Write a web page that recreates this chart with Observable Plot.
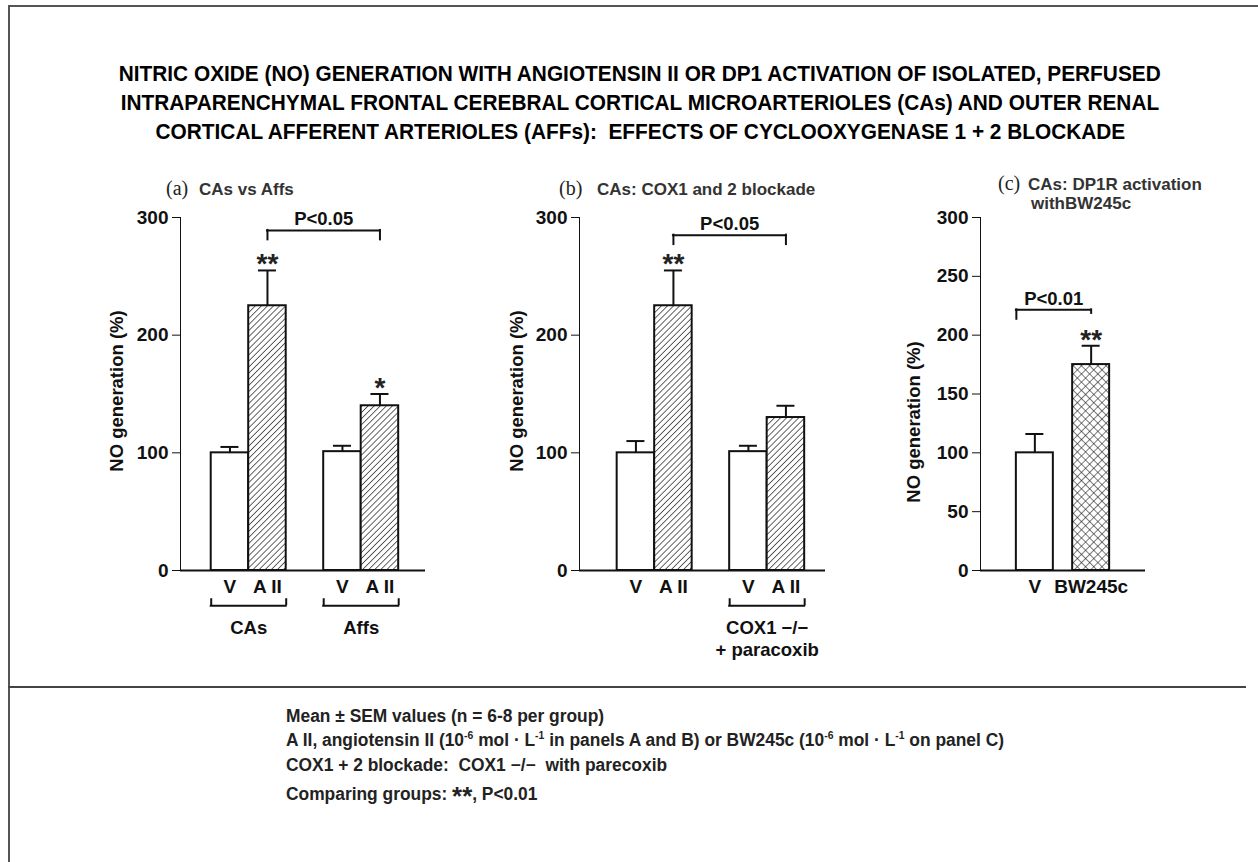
<!DOCTYPE html>
<html>
<head>
<meta charset="utf-8">
<script src="https://cdn.jsdelivr.net/npm/d3@7"></script>
<script src="https://cdn.jsdelivr.net/npm/@observablehq/plot@0.6"></script>
<style>
  html, body { margin: 0; padding: 0; background: #fff; }
  body { width: 1258px; height: 862px; position: relative; overflow: hidden;
         font-family: 'Liberation Sans', Arial, Helvetica, sans-serif; font-weight: bold; color: #111; }
  .abs { position: absolute; white-space: nowrap; }
  #frame { position: absolute; left: 8px; top: 5px; right: -10px; bottom: -10px;
           border-top: 2px solid #555; border-left: 2px solid #555; }
  #title { position: absolute; left: 0; top: 60px; width: 1280px; text-align: center;
           font-size: 21.5px; line-height: 29px; color: #000; }
  #title span { display: inline-block; transform-origin: center center; white-space: nowrap; }
  .hdr { font-size: 17px; color: #333; }
  .ser { font-family: 'Liberation Serif', 'DejaVu Serif', serif; font-weight: normal; font-size: 20px; color: #222; }
  #rule { position: absolute; left: 8px; top: 686px; width: 1238px; height: 0; border-top: 2.5px solid #444; }
  .cap { font-size: 17.5px; color: #222; transform-origin: left center; }
  sup { font-size: 10.5px; vertical-align: 7px; line-height: 0; }
  .panel { position: absolute; top: 160px; }
</style>
</head>
<body>
<svg width="0" height="0" style="position:absolute">
  <defs>
    <pattern id="hatch" patternUnits="userSpaceOnUse" width="4.3" height="4.3" patternTransform="rotate(45)">
      <rect width="4.3" height="4.3" fill="#fff"></rect>
      <line x1="0" y1="0" x2="0" y2="4.3" stroke="#111" stroke-width="1.3"></line>
    </pattern>
    <pattern id="cross" patternUnits="userSpaceOnUse" width="5.8" height="5.8" patternTransform="rotate(45)">
      <rect width="5.8" height="5.8" fill="#fff"></rect>
      <line x1="0" y1="0" x2="0" y2="5.8" stroke="#111" stroke-width="1.1"></line>
      <line x1="0" y1="0" x2="5.8" y2="0" stroke="#111" stroke-width="1.1"></line>
    </pattern>
  </defs>
</svg>
<div id="frame"></div>
<div id="title">
  <div><span id="t1">NITRIC OXIDE (NO) GENERATION WITH ANGIOTENSIN II OR DP1 ACTIVATION OF ISOLATED, PERFUSED</span></div>
  <div><span>INTRAPARENCHYMAL FRONTAL CEREBRAL CORTICAL MICROARTERIOLES (CAs) AND OUTER RENAL</span></div>
  <div><span>CORTICAL AFFERENT ARTERIOLES (AFFs):&nbsp; EFFECTS OF CYCLOOXYGENASE 1 + 2 BLOCKADE</span></div>
</div>

<div class="abs ser" style="left:166px; top:177px;">(a)</div>
<div class="abs hdr" style="left:199px; top:180px;">CAs vs Affs</div>
<div class="abs ser" style="left:559px; top:177px;">(b)</div>
<div class="abs hdr" style="left:597px; top:180px;">CAs: COX1 and 2 blockade</div>
<div class="abs ser" style="left:998px; top:172px;">(c)</div>
<div class="abs hdr" style="left:1028px; top:175px;">CAs: DP1R activation</div>
<div class="abs hdr" style="left:1031px; top:194px;">withBW245c</div>

<div id="pa" class="panel" style="left:60px;"></div>
<div id="pb" class="panel" style="left:460px;"></div>
<div id="pc" class="panel" style="left:860px;"></div>

<div id="rule"></div>
<div class="abs cap" style="left:286px; top:706px;">Mean ± SEM values (n = 6-8 per group)</div>
<div class="abs cap" id="c2" style="left:286px; top:730px;">A II, angiotensin II (10<sup>-6</sup> mol · L<sup>-1</sup> in panels A and B) or BW245c (10<sup>-6</sup> mol · L<sup>-1</sup> on panel C)</div>
<div class="abs cap" style="left:286px; top:755px;">COX1 + 2 blockade:&nbsp; COX1 −/−&nbsp; with parecoxib</div>
<div class="abs cap" style="left:286px; top:781px;">Comparing groups: <span style="font-size:26px; vertical-align:-5px;">**</span>, P&lt;0.01</div>

<script>
// ---------- Data ----------
// Panel (a): CAs vs Affs
const aGroups     = ["CAs", "CAs", "Affs", "Affs"];
const aConditions = ["V", "A II", "V", "A II"];
const aMeans      = [100, 225, 101, 140];
const aSems       = [5, 30, 5, 10];
const aStars      = ["", "**", "", "*"];
const aFills      = ["open", "hatch", "open", "hatch"];
const aComparison = {from: 1, to: 3, label: "P<0.05", y: 289, fromDrop: 8, toDrop: 8, fromAnchor: "center"};

// Panel (b): COX1 and 2 blockade
const bGroups     = ["", "", "COX1 −/−\n+ paracoxib", "COX1 −/−\n+ paracoxib"];
const bConditions = ["V", "A II", "V", "A II"];
const bMeans      = [100, 225, 101, 130];
const bSems       = [10, 30, 5, 10];
const bStars      = ["", "**", "", ""];
const bFills      = ["open", "hatch", "open", "hatch"];
const bComparison = {from: 1, to: 3, label: "P<0.05", y: 285, fromDrop: 8, toDrop: 8, fromAnchor: "center"};

// Panel (c): DP1R activation with BW245c
const cGroups     = ["", ""];
const cConditions = ["V", "BW245c"];
const cMeans      = [100, 175];
const cSems       = [16, 16];
const cStars      = ["", "**"];
const cFills      = ["open", "cross"];
const cComparison = {from: 0, to: 1, label: "P<0.01", y: 221.5, fromDrop: 8, toDrop: 3, fromAnchor: "start"};

const yLabel = "NO generation (%)";
const FONT = "'Liberation Sans', Arial, Helvetica, sans-serif";
const fillMap = {open: "white", hatch: "url(#hatch)", cross: "url(#cross)"};

function makePanel(cfg) {
  const rows = cfg.conditions.map((c, i) => ({
    key: cfg.groups[i] + "|" + c, cond: c, group: cfg.groups[i],
    mean: cfg.means[i], top: cfg.means[i] + cfg.sems[i],
    star: cfg.stars[i], fill: cfg.fills[i]
  }));
  const domain = [];
  rows.forEach((r, i) => {
    if (i > 0 && r.group !== rows[i - 1].group) domain.push("gap" + i);
    domain.push(r.key);
  });
  const band = d3.scaleBand().domain(domain)
    .range([cfg.marginLeft, cfg.width - cfg.marginRight])
    .paddingInner(cfg.paddingInner).paddingOuter(cfg.paddingOuter).align(cfg.align);
  const bw = band.bandwidth();
  const capInset = (bw - 18) / 2;

  const groupRows = [];
  [...new Set(cfg.groups)].forEach(g => {
    if (!g) return;
    const rs = rows.filter(r => r.group === g);
    groupRows.push({first: rs[0].key, last: rs[rs.length - 1].key, label: g});
  });

  const cmp = cfg.comparison;
  const fromKey = rows[cmp.from].key, toKey = rows[cmp.to].key;
  const leftPx = band(fromKey) + (cmp.fromAnchor === "center" ? bw / 2 : 0);
  const rightPx = band(toKey) + bw / 2;
  const cmpRow = [{x1: fromKey, x2: toKey, y: cmp.y, yf: cmp.y - cmp.fromDrop, yt: cmp.y - cmp.toDrop, label: cmp.label}];

  const marks = [];
  Object.keys(fillMap).forEach(f => {
    const sub = rows.filter(r => r.fill === f);
    if (sub.length) marks.push(Plot.barY(sub, {x: "key", y: "mean", fill: fillMap[f], stroke: "#111", strokeWidth: 2}));
  });
  marks.push(
    Plot.ruleY([0], {stroke: "#111", strokeWidth: 2}),
    Plot.ruleX(rows, {x: "key", y1: "mean", y2: "top", stroke: "#111", strokeWidth: 2}),
    Plot.tickY(rows, {x: "key", y: "top", insetLeft: capInset, insetRight: capInset, stroke: "#111", strokeWidth: 2}),
    Plot.text(rows.filter(r => r.star), {x: "key", y: "top", text: "star", lineAnchor: "bottom", dy: 3, fontSize: 28, fontWeight: "bold", fill: "#222"}),
    Plot.ruleY(cmpRow, {x1: "x1", x2: "x2", y: "y", insetLeft: cmp.fromAnchor === "center" ? bw / 2 : 0, insetRight: bw / 2, stroke: "#111", strokeWidth: 2, strokeLinecap: "square"}),
    Plot.ruleX(cmpRow, {x: "x1", y1: "yf", y2: "y", dx: cmp.fromAnchor === "center" ? 0 : -bw / 2, stroke: "#111", strokeWidth: 2, strokeLinecap: "square"}),
    Plot.ruleX(cmpRow, {x: "x2", y1: "yt", y2: "y", stroke: "#111", strokeWidth: 2, strokeLinecap: "square"}),
    Plot.text(cmpRow, {x: "x1", y: "y", text: "label", dx: (leftPx + rightPx) / 2 - (band(fromKey) + bw / 2), dy: -5, lineAnchor: "bottom", fontSize: 18.5, fontWeight: "bold", fill: "#111"}),
    Plot.ruleY(groupRows, {x1: "first", x2: "last", y: -30, stroke: "#111", strokeWidth: 2, strokeLinecap: "square"}),
    Plot.ruleX(groupRows, {x: "first", y1: -30, y2: -24, dx: -bw / 2, stroke: "#111", strokeWidth: 2}),
    Plot.ruleX(groupRows, {x: "last", y1: -30, y2: -24, dx: bw / 2, stroke: "#111", strokeWidth: 2}),
    Plot.text(groupRows, {x: "first", y: -30, text: "label", dx: bw / 2, dy: 12, lineAnchor: "top", lineHeight: 1.2, fontSize: 18.5, fontWeight: "bold", fill: "#111"}),
    Plot.text([yLabel], {frameAnchor: "left", text: d => d, rotate: -90, textAnchor: "middle", dx: cfg.labelDx, dy: cfg.labelDy, fontSize: 18.5, fontWeight: "bold", fill: "#111"})
  );

  return Plot.plot({
    width: cfg.width, height: 500,
    marginLeft: cfg.marginLeft, marginRight: cfg.marginRight, marginTop: 57, marginBottom: 90,
    style: {fontFamily: FONT, fontSize: "19px", fontWeight: "bold", color: "#111", background: "transparent", overflow: "visible"},
    x: {domain, paddingInner: cfg.paddingInner, paddingOuter: cfg.paddingOuter, align: cfg.align, round: false,
        tickFormat: k => k.startsWith("gap") ? "" : k.split("|")[1], tickSize: 0, tickPadding: 9, label: null},
    y: {domain: [0, 300], ticks: cfg.yTicks, tickSize: 8, tickPadding: 4, line: true, label: null},
    marks
  });
}

document.getElementById("pa").appendChild(makePanel({
  groups: aGroups, conditions: aConditions, means: aMeans, sems: aSems, stars: aStars, fills: aFills, comparison: aComparison,
  width: 380, marginLeft: 120, marginRight: 15, paddingInner: 0, paddingOuter: 0.767, align: 0.534, yTicks: 3, labelDx: -63, labelDy: -3
}));
document.getElementById("pb").appendChild(makePanel({
  groups: bGroups, conditions: bConditions, means: bMeans, sems: bSems, stars: bStars, fills: bFills, comparison: bComparison,
  width: 380, marginLeft: 119, marginRight: 15, paddingInner: 0, paddingOuter: 0.78, align: 0.644, yTicks: 3, labelDx: -62, labelDy: -3
}));
document.getElementById("pc").appendChild(makePanel({
  groups: cGroups, conditions: cConditions, means: cMeans, sems: cSems, stars: cStars, fills: cFills, comparison: cComparison,
  width: 300, marginLeft: 120, marginRight: 15, paddingInner: 0.343, paddingOuter: 0.637, align: 0.5, yTicks: 6, labelDx: -66, labelDy: 28
}));

// condense the HTML title and caption text to the reference widths
const t1 = document.getElementById("t1");
const ts = 1042 / t1.getBoundingClientRect().width;
document.querySelectorAll("#title span").forEach(s => s.style.transform = `scaleX(${ts})`);
const c2 = document.getElementById("c2");
const cs = 718 / c2.getBoundingClientRect().width;
document.querySelectorAll(".cap").forEach(s => s.style.transform = `scaleX(${cs})`);
</script>
</body>
</html>
